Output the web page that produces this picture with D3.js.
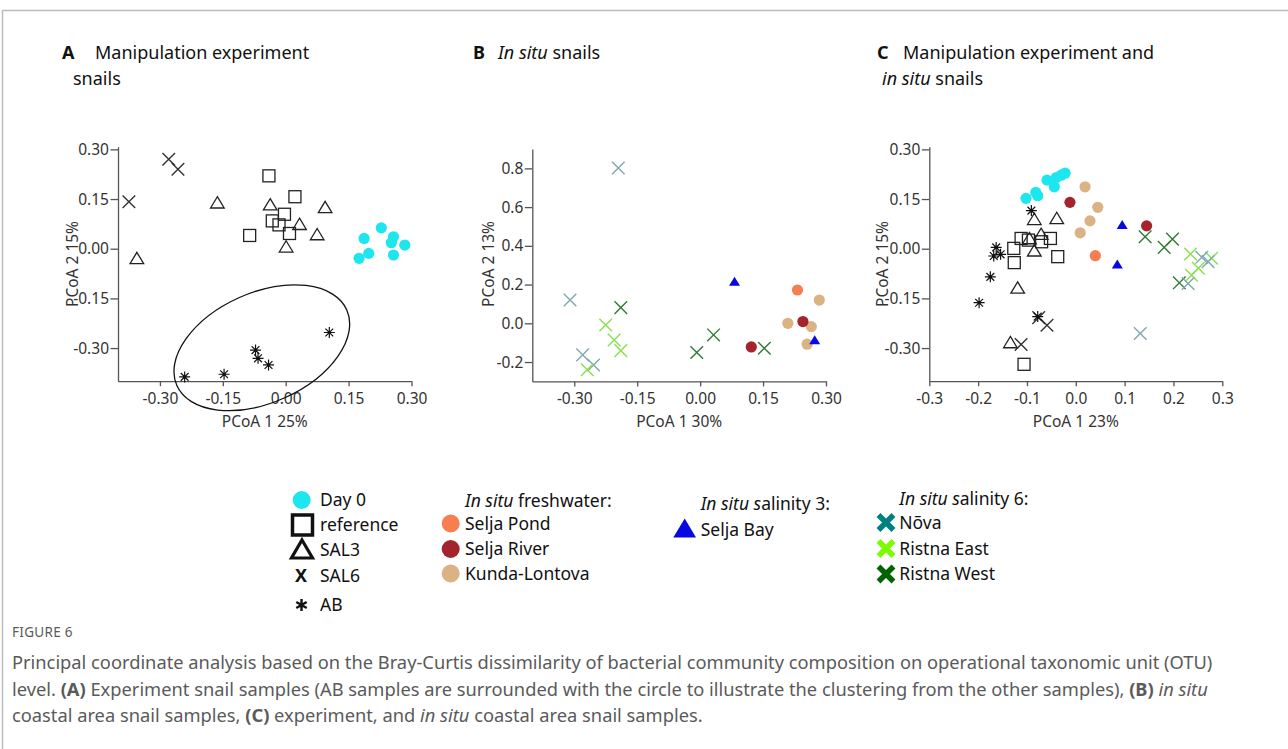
<!DOCTYPE html>
<meta charset="utf-8">
<head>
<script src="https://d3js.org/d3.v7.min.js"></script>
<style>
    body { margin: 0; background: #fff; }
    text { font-family: "Noto Sans", sans-serif; }
    .axis path, .axis line { stroke: #555; stroke-width: 1.3; }
    .axis text { font-size: 15.5px; fill: #333; font-family: "Noto Sans", sans-serif; }
</style>
</head>
<body>
<div id="graph"></div>
<script>
    // ---- data ----
    // panel A: manipulation experiment snails
    var aDay0 = [[0.187,0.031],[0.175,-0.029],[0.198,-0.014],[0.228,0.063],[0.257,0.036],[0.252,0.018],[0.284,0.011],[0.257,-0.019]];
    var aReference = [[-0.040,0.220],[0.022,0.157],[-0.086,0.040],[-0.032,0.084],[-0.003,0.104],[-0.016,0.072],[0.009,0.046]];
    var aSal3 = [[-0.163,0.139],[-0.355,-0.029],[-0.037,0.133],[0.033,0.074],[0.094,0.125],[0.075,0.043],[0.001,0.006]];
    var aSal6 = [[-0.279,0.270],[-0.257,0.240],[-0.374,0.142]];
    var aAB = [[-0.241,-0.387],[-0.147,-0.379],[-0.072,-0.306],[-0.066,-0.331],[-0.041,-0.351],[0.104,-0.253]];
    var aEllipseCenter = [-0.057, -0.299];

    // panel B: in situ snails
    var bNova = [[-0.195,0.802],[-0.310,0.120],[-0.280,-0.163],[-0.254,-0.215]];
    var bRistnaEast = [[-0.225,-0.009],[-0.205,-0.086],[-0.189,-0.141],[-0.269,-0.240]];
    var bRistnaWest = [[-0.189,0.081],[0.032,-0.060],[-0.008,-0.151],[0.153,-0.129]];
    var bSeljaBay = [[0.082,0.215],[0.273,-0.086]];
    var bSeljaPond = [[0.232,0.172]];
    var bSeljaRiver = [[0.245,0.009],[0.122,-0.122]];
    var bKunda = [[0.284,0.120],[0.209,0.000],[0.265,-0.017],[0.255,-0.108]];

    // panel C: both
    var cDay0 = [[-0.102,0.152],[-0.082,0.170],[-0.078,0.160],[-0.059,0.207],[-0.044,0.187],[-0.040,0.215],[-0.030,0.222],[-0.022,0.228]];
    var cReference = [[-0.112,0.031],[-0.127,0.001],[-0.126,-0.042],[-0.097,0.026],[-0.070,0.021],[-0.052,0.031],[-0.037,-0.024],[-0.106,-0.349]];
    var cSal3 = [[-0.085,0.089],[-0.039,0.092],[-0.095,0.031],[-0.071,0.044],[-0.085,-0.006],[-0.119,-0.118],[-0.134,-0.283]];
    var cSal6 = [[-0.076,-0.208],[-0.059,-0.231],[-0.112,-0.289]];
    var cAB = [[-0.091,0.115],[-0.163,0.004],[-0.168,-0.022],[-0.154,-0.017],[-0.175,-0.085],[-0.198,-0.163],[-0.078,-0.205]];
    var cSeljaPond = [[0.040,-0.021]];
    var cSeljaRiver = [[-0.012,0.140],[0.145,0.069]];
    var cKunda = [[0.019,0.187],[0.045,0.125],[0.029,0.084],[0.009,0.048]];
    var cSeljaBay = [[0.095,0.072],[0.085,-0.047]];
    var cNova = [[0.258,-0.026],[0.271,-0.039],[0.230,-0.105],[0.132,-0.256]];
    var cRistnaEast = [[0.235,-0.016],[0.278,-0.029],[0.251,-0.059],[0.237,-0.080]];
    var cRistnaWest = [[0.142,0.036],[0.181,0.004],[0.198,0.029],[0.212,-0.103]];

    // tick values
    var ticksA = [-0.30, -0.15, 0, 0.15, 0.30];
    var ticksB_y = [-0.2, 0, 0.2, 0.4, 0.6, 0.8];
    var ticksC_x = [-0.3, -0.2, -0.1, 0, 0.1, 0.2, 0.3];

    // legend labels
    var legendExperiment = ["Day 0", "reference", "SAL3", "SAL6", "AB"];
    var legendFresh = ["Selja Pond", "Selja River", "Kunda-Lontova"];
    var legendSal3 = ["Selja Bay"];
    var legendSal6 = ["Nõva", "Ristna East", "Ristna West"];

    // ---- styles ----
    var sty = {
        day0:  {shape: "circle", fill: "#1de6ef"},
        ref:   {shape: "square", stroke: "#222"},
        sal3:  {shape: "tri", stroke: "#222"},
        sal6:  {shape: "cross", stroke: "#333"},
        ab:    {shape: "star", stroke: "#111"},
        pond:  {shape: "circle", fill: "#f77e50"},
        river: {shape: "circle", fill: "#a3252b"},
        kunda: {shape: "circle", fill: "#dbb283"},
        bay:   {shape: "ftri", fill: "#0808e0"},
        nova:  {shape: "cross", stroke: "#7fa9ad"},
        east:  {shape: "cross", stroke: "#88e04c"},
        west:  {shape: "cross", stroke: "#2f7a33"}
    };

    var svg = d3.select("#graph").append("svg")
        .attr("width", 1288).attr("height", 749);

    // figure frame
    svg.append("path").attr("d", "M2.5,749V10.5H1288")
        .attr("fill", "none").attr("stroke", "#bbb").attr("stroke-width", 1.5);

    function fmt(n) { return function(d) { return d.toFixed(n); }; }

    function panel(opt) {
        var x = d3.scaleLinear().domain(opt.xd).range(opt.xr);
        var y = d3.scaleLinear().domain(opt.yd).range(opt.yr);
        var g = svg.append("g");

        g.append("g").attr("class", "axis")
            .attr("transform", "translate(0," + opt.yr[0] + ")")
            .call(d3.axisBottom(x).tickValues(opt.xt).tickFormat(fmt(opt.xf)).tickSizeInner(5).tickSizeOuter(0).tickPadding(7));
        g.append("g").attr("class", "axis")
            .attr("transform", "translate(" + opt.xr[0] + ",0)")
            .call(d3.axisLeft(y).tickValues(opt.yt).tickFormat(fmt(opt.yf)).tickSizeInner(7.5).tickSizeOuter(0).tickPadding(1.5));

        // axis labels
        g.append("text").attr("x", (opt.xr[0] + opt.xr[1]) / 2).attr("y", 427)
            .attr("text-anchor", "middle").style("font-size", "15.5px").attr("fill", "#333")
            .text(opt.xl);
        g.append("text").attr("transform", "translate(" + opt.ylx + ",264) rotate(-90)")
            .attr("text-anchor", "middle").attr("dy", "0.35em").style("font-size", "15.5px").attr("fill", "#333")
            .text(opt.yl);

        opt.series.forEach(function(s) {
            var st = sty[s[1]];
            var sel = g.append("g").selectAll("g").data(s[0]).enter().append("g")
                .attr("transform", function(d) { return "translate(" + x(d[0]) + "," + y(d[1]) + ")"; });
            drawMark(sel, st);
        });
        return {g: g, x: x, y: y};
    }

    function drawMark(sel, st) {
        if (st.shape == "circle") {
            sel.append("circle").attr("r", 5.6).attr("fill", st.fill);
        } else if (st.shape == "square") {
            sel.append("rect").attr("x", -6).attr("y", -6).attr("width", 12).attr("height", 12)
                .attr("fill", "none").attr("stroke", st.stroke).attr("stroke-width", 1.3);
        } else if (st.shape == "tri") {
            sel.append("path").attr("d", "M0,-6L6.8,5.3L-6.8,5.3Z")
                .attr("fill", "none").attr("stroke", st.stroke).attr("stroke-width", 1.3);
        } else if (st.shape == "ftri") {
            sel.append("path").attr("d", "M0,-4.8L5.5,4.2L-5.5,4.2Z").attr("fill", st.fill);
        } else if (st.shape == "cross") {
            sel.append("path").attr("d", "M-6.3,-6.3L6.3,6.3M-6.3,6.3L6.3,-6.3")
                .attr("stroke", st.stroke).attr("stroke-width", 1.4).attr("fill", "none");
        } else if (st.shape == "star") {
            sel.append("path").attr("d", "M-5.5,0H5.5M0,-5.5V5.5M-3.9,-3.9L3.9,3.9M-3.9,3.9L3.9,-3.9")
                .attr("stroke", st.stroke).attr("stroke-width", 1.2);
            sel.append("circle").attr("r", 1.6).attr("fill", st.stroke);
        }
    }

    // panel A
    var pA = panel({
        xd: [-0.40, 0.30], xr: [118, 411.5], yd: [-0.40, 0.308], yr: [381.2, 146.7],
        xt: ticksA, yt: ticksA, xf: 2, yf: 2, xl: "PCoA 1 25%", yl: "PCoA 2 15%", ylx: 73,
        series: [[aSal6, "sal6"], [aSal3, "sal3"], [aReference, "ref"], [aDay0, "day0"], [aAB, "ab"]]
    });
    // ellipse round the AB samples
    pA.g.append("ellipse")
        .attr("transform", "translate(" + pA.x(aEllipseCenter[0]) + "," + pA.y(aEllipseCenter[1]) + ") rotate(-24)")
        .attr("rx", 93).attr("ry", 55)
        .attr("fill", "none").attr("stroke", "#111").attr("stroke-width", 1.3);

    // panel B
    panel({
        xd: [-0.40, 0.30], xr: [532.3, 826], yd: [-0.3, 0.9], yr: [381.4, 149],
        xt: ticksA, yt: ticksB_y, xf: 2, yf: 1, xl: "PCoA 1 30%", yl: "PCoA 2 13%", ylx: 489,
        series: [[bNova, "nova"], [bRistnaEast, "east"], [bRistnaWest, "west"], [bKunda, "kunda"],
                 [bSeljaRiver, "river"], [bSeljaPond, "pond"], [bSeljaBay, "bay"]]
    });

    // panel C
    panel({
        xd: [-0.3, 0.3], xr: [929.3, 1222.3], yd: [-0.40, 0.308], yr: [381.2, 146.7],
        xt: ticksC_x, yt: ticksA, xf: 1, yf: 2, xl: "PCoA 1 23%", yl: "PCoA 2 15%", ylx: 883,
        series: [[cDay0, "day0"], [cKunda, "kunda"], [cSeljaRiver, "river"], [cSeljaPond, "pond"], [cSeljaBay, "bay"],
                 [cReference, "ref"], [cSal3, "sal3"], [cSal6, "sal6"], [cAB, "ab"],
                 [cRistnaWest, "west"], [cRistnaEast, "east"], [cNova, "nova"]]
    });

    // panel titles
    function title(x, y, parts) {
        var t = svg.append("text").attr("x", x).attr("y", y).style("font-size", "18px").attr("fill", "#111");
        parts.forEach(function(p) {
            t.append("tspan").attr("x", p[2]).style("font-weight", p[1] == "b" ? "bold" : null)
                .style("font-style", p[1] == "i" ? "italic" : null).text(p[0]);
        });
    }
    title(62, 59, [["A", "b", 62], ["Manipulation experiment", "", 95]]);
    title(73, 85, [["snails", "", 73]]);
    title(473, 59, [["B", "b", 473], ["In situ", "i", 498], [" snails", "", null]]);
    title(877, 59, [["C", "b", 877], ["Manipulation experiment and", "", 903]]);
    title(882, 85, [["in situ", "i", 882], [" snails", "", null]]);

    // ---- legend ----
    var lg = svg.append("g").style("font-size", "17.5px").attr("fill", "#111");
    var rowY = [500, 525, 550, 576, 605];
    legendExperiment.forEach(function(d, i) {
        lg.append("text").attr("x", 320).attr("y", rowY[i]).attr("dy", "0.36em").text(d);
    });
    lg.append("circle").attr("cx", 301.7).attr("cy", rowY[0]).attr("r", 9).attr("fill", sty.day0.fill);
    lg.append("rect").attr("x", 292.5).attr("y", rowY[1] - 10).attr("width", 20).attr("height", 20)
        .attr("fill", "none").attr("stroke", "#111").attr("stroke-width", 3.5);
    lg.append("path").attr("d", "M302," + (rowY[2] - 10) + "L312.5," + (rowY[2] + 8) + "L291.5," + (rowY[2] + 8) + "Z")
        .attr("fill", "none").attr("stroke", "#111").attr("stroke-width", 3.2).attr("stroke-linejoin", "miter");
    lg.append("text").attr("x", 301).attr("y", rowY[3]).attr("dy", "0.36em").attr("text-anchor", "middle")
        .style("font-weight", "bold").style("font-size", "18px").text("X");
    lg.append("path").attr("transform", "translate(301.5," + rowY[4] + ")")
        .attr("d", "M0,-6V6M-5.2,-3L5.2,3M-5.2,3L5.2,-3").attr("stroke", "#111").attr("stroke-width", 2.4);

    function header(x, y, rest) {
        var t = lg.append("text").attr("x", x).attr("y", y).attr("dy", "0.36em");
        t.append("tspan").style("font-style", "italic").text("In situ");
        t.append("tspan").text(rest);
        return t;
    }
    header(465, 501, " freshwater:");
    var freshY = [523.5, 549, 573.5];
    var freshCol = [sty.pond.fill, sty.river.fill, sty.kunda.fill];
    legendFresh.forEach(function(d, i) {
        lg.append("circle").attr("cx", 450.7).attr("cy", freshY[i]).attr("r", 9).attr("fill", freshCol[i]);
        lg.append("text").attr("x", 465).attr("y", freshY[i]).attr("dy", "0.36em").text(d);
    });

    var h3 = lg.append("text").attr("x", 700.7).attr("y", 503.5).attr("dy", "0.36em");
    h3.append("tspan").style("font-style", "italic").text("In situ s");
    h3.append("tspan").text("alinity 3:");
    lg.append("path").attr("d", "M684.7,518.5L696,537.5L673.3,537.5Z").attr("fill", sty.bay.fill);
    lg.append("text").attr("x", 700.7).attr("y", 529.5).attr("dy", "0.36em").text(legendSal3[0]);

    var h6 = lg.append("text").attr("x", 899.3).attr("y", 498.5).attr("dy", "0.36em");
    h6.append("tspan").style("font-style", "italic").text("In situ s");
    h6.append("tspan").text("alinity 6:");
    var sal6Y = [522.5, 548.5, 574];
    var sal6Col = ["#008080", "#7cfc00", "#006400"];
    legendSal6.forEach(function(d, i) {
        lg.append("path").attr("transform", "translate(886," + sal6Y[i] + ")")
            .attr("d", "M-7.5,-7.5L7.5,7.5M-7.5,7.5L7.5,-7.5").attr("stroke", sal6Col[i]).attr("stroke-width", 5.5);
        lg.append("text").attr("x", 899.3).attr("y", sal6Y[i]).attr("dy", "0.36em").text(d);
    });

    // ---- caption ----
    var cap = svg.append("g").attr("fill", "#5a5a5a");
    cap.append("text").attr("x", 12).attr("y", 637).style("font-size", "13.5px").style("letter-spacing", "0.3px").text("FIGURE 6");
    var capLines = [
        [["Principal coordinate analysis based on the Bray-Curtis dissimilarity of bacterial community composition on operational taxonomic unit (OTU)", ""]],
        [["level. ", ""], ["(A)", "b"], [" Experiment snail samples (AB samples are surrounded with the circle to illustrate the clustering from the other samples), ", ""], ["(B)", "b"], [" ", ""], ["in situ", "i"]],
        [["coastal area snail samples, ", ""], ["(C)", "b"], [" experiment, and ", ""], ["in situ", "i"], [" coastal area snail samples.", ""]]
    ];
    capLines.forEach(function(line, i) {
        var t = cap.append("text").attr("x", 12).attr("y", 669 + i * 26.5).style("font-size", "18.3px");
        line.forEach(function(p) {
            t.append("tspan").style("font-weight", p[1] == "b" ? "bold" : null)
                .style("font-style", p[1] == "i" ? "italic" : null).text(p[0]);
        });
    });
</script>
</body>
